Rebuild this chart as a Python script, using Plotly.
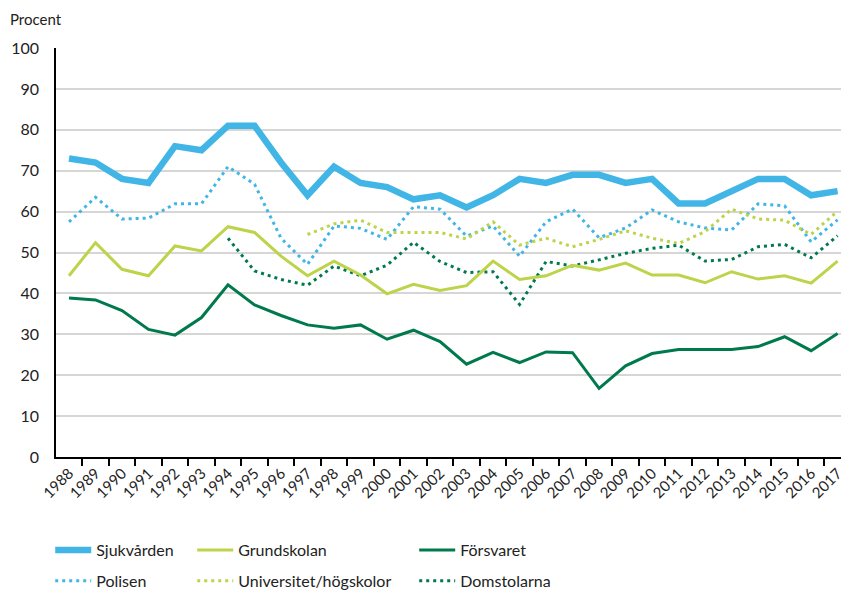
import plotly.graph_objects as go

years = [str(y) for y in range(1988, 2018)]

sjukvarden = [73, 72, 68, 67, 76, 75, 81, 81, 72, 64, 71, 67, 66, 63, 64, 61, 64, 68, 67, 69,
              69, 67, 68, 62, 62, 65, 68, 68, 64, 65]
grundskolan = [44.3, 52.4, 45.9, 44.3, 51.6, 50.4, 56.3, 54.9, 49.1, 44.3, 47.9, 44.5, 39.9, 42.2, 40.7,
               41.9, 47.9, 43.4, 44.3, 46.9, 45.7, 47.4, 44.5, 44.5, 42.6, 45.3, 43.5, 44.3, 42.5, 47.9]
forsvaret = [38.9, 38.4, 35.8, 31.2, 29.8, 34.1, 42.1, 37.2, 34.6, 32.3, 31.5, 32.3, 28.8, 31.0, 28.2,
             22.7, 25.6, 23.1, 25.7, 25.5, 16.8, 22.3, 25.3, 26.3, 26.3, 26.3, 27.0, 29.4, 26.0, 30.2]
polisen = [57.5, 63.5, 58.2, 58.4, 61.9, 61.9, 71.0, 66.7, 53.5, 47.1, 56.5, 55.9, 53.2, 61.2, 60.6,
           54.0, 56.5, 49.1, 57.5, 60.6, 53.6, 56.0, 60.4, 57.5, 56.0, 55.5, 61.9, 61.4, 52.6, 58.0]
universitet = [None] * 9 + [54.4, 57.0, 57.9, 54.9, 54.9, 54.9, 53.3, 57.5, 51.8, 53.5, 51.4, 53.2,
                            55.3, 53.5, 52.2, 55.1, 60.6, 58.2, 57.9, 54.4, 60.1]
domstolarna = [None] * 6 + [53.5, 45.5, 43.4, 42.0, 46.7, 44.3, 46.9, 52.5, 47.8, 45.1, 45.3, 37.3,
                            47.8, 46.7, 48.2, 49.8, 51.0, 51.8, 47.9, 48.3, 51.4, 52.0, 48.7, 54.1]

y_ticks = [0, 10, 20, 30, 40, 50, 60, 70, 80, 90, 100]

BLUE = "#41b6e6"
LIME = "#bcd34a"
GREEN = "#007a4d"
FONT = "Lato"
DOT = "3px,4px"

fig = go.Figure()

series = [
    # name, values, color, width, dash, legend, rank
    ("Polisen", polisen, BLUE, 3, DOT, "legend", 2),
    ("Universitet/högskolor", universitet, LIME, 3, DOT, "legend2", 2),
    ("Domstolarna", domstolarna, GREEN, 3, DOT, "legend3", 2),
    ("Försvaret", forsvaret, GREEN, 3, "solid", "legend3", 1),
    ("Grundskolan", grundskolan, LIME, 3, "solid", "legend2", 1),
    ("Sjukvården", sjukvarden, BLUE, 6.5, "solid", "legend", 1),
]

for name, vals, color, width, dash, leg, rank in series:
    fig.add_trace(go.Scatter(
        x=years, y=vals, name=name, mode="lines",
        line=dict(color=color, width=width, dash=dash),
        legend=leg, legendrank=rank, legendgroup=name,
        connectgaps=False,
    ))

legend_common = dict(
    orientation="v", xref="paper", yref="paper", xanchor="left", yanchor="top",
    font=dict(family=FONT, size=16, color="#222222"), tracegroupgap=7,
    bgcolor="rgba(0,0,0,0)", itemwidth=36,
)

# the page adds an 8px body margin, so the figure is 8px smaller on each side
fig.update_layout(
    width=841, height=583,
    margin=dict(l=48, r=0, t=40, b=134, autoexpand=False),
    paper_bgcolor="white", plot_bgcolor="white",
    font=dict(family=FONT, size=16, color="#222222"),
    showlegend=True,
    legend=dict(x=-0.0073, y=-0.186, **legend_common),
    legend2=dict(x=0.1718, y=-0.186, **legend_common),
    legend3=dict(x=0.4517, y=-0.186, **legend_common),
    xaxis=dict(
        type="category", range=[-0.49, 29.43], automargin=False,
        showline=True, linecolor="#000000", linewidth=1.5,
        ticks="outside", tickson="boundaries", ticklen=7, tickcolor="#000000", tickwidth=1.5,
        tickangle=-45, tickfont=dict(family=FONT, size=15, color="#222222"),
        showgrid=False, zeroline=False,
    ),
    yaxis=dict(
        range=[0, 100], tickvals=y_ticks, ticktext=[str(v) for v in y_ticks], automargin=False,
        showline=True, linecolor="#000000", linewidth=1.5,
        ticks="", ticklabelstandoff=12,
        tickfont=dict(family=FONT, size=16, color="#222222"),
        showgrid=True, gridcolor="#d6d6d6", gridwidth=1.5, zeroline=False,
    ),
    annotations=[dict(
        text="Procent", xref="paper", yref="paper", x=-0.061, y=1.07,
        xanchor="left", yanchor="middle", showarrow=False,
        font=dict(family=FONT, size=15, color="#222222"),
    )],
)

fig.write_html("out.html")
